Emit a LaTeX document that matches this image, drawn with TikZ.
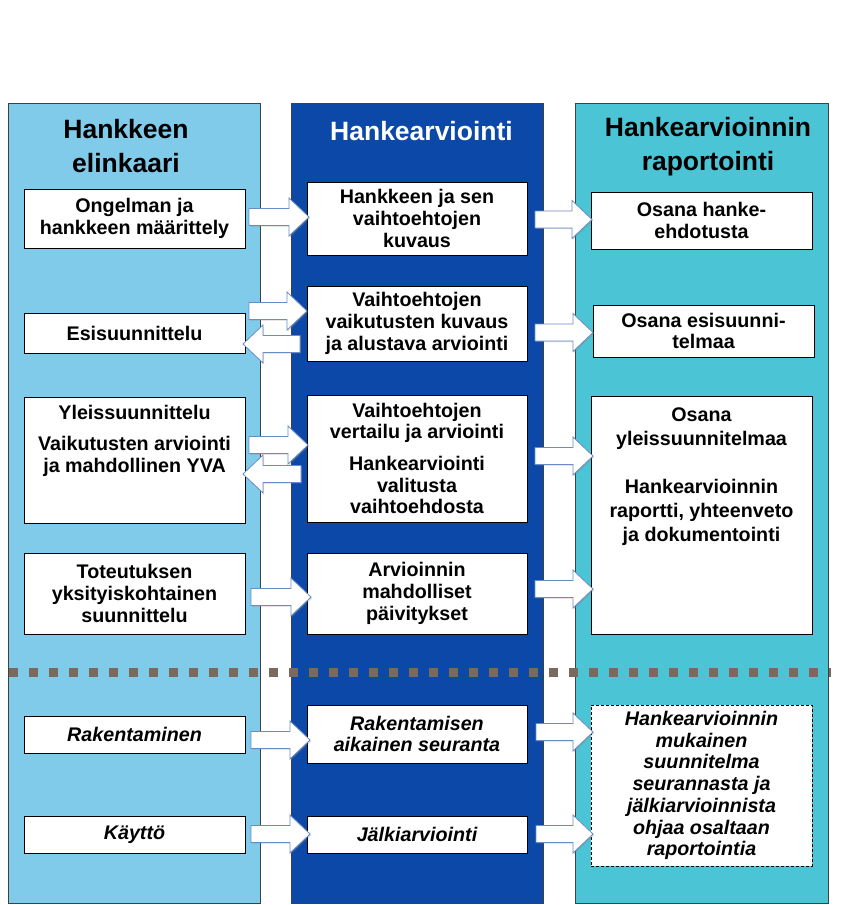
\documentclass[tikz,border=0pt]{standalone}
\usepackage{fontspec}
\setmainfont{Liberation Sans}
\usetikzlibrary{shadows}
\definecolor{colL}{RGB}{127,203,233}
\definecolor{colM}{RGB}{12,72,168}
\definecolor{colR}{RGB}{75,197,214}
\definecolor{dotc}{RGB}{122,106,94}
\definecolor{arrowc}{RGB}{105,140,200}
\newcommand\blockR[3]{\draw[barrow] (#1,#3-8.5) -- (#2-20,#3-8.5) -- (#2-20,#3-19) -- (#2,#3) -- (#2-20,#3+19) -- (#2-20,#3+8.5) -- (#1,#3+8.5) -- cycle;}
\newcommand\blockL[3]{\draw[barrow] (#1,#3-8.5) -- (#2+20,#3-8.5) -- (#2+20,#3-19) -- (#2,#3) -- (#2+20,#3+19) -- (#2+20,#3+8.5) -- (#1,#3+8.5) -- cycle;}
\begin{document}
\begin{tikzpicture}[x=1pt,y=-1pt,
  colbox/.style={draw=black!75,line width=0.8pt},
  box/.style={draw=black,line width=0.7pt,fill=white,inner sep=0pt,align=center,
    font=\bfseries\fontsize{19.7}{21.7}\selectfont},
  ibox/.style={box,font=\bfseries\itshape\fontsize{19.7}{21.7}\selectfont},
  txt/.style={inner sep=0pt,align=center,font=\bfseries\fontsize{19.7}{21.7}\selectfont},
  head/.style={inner sep=0pt,align=center,font=\bfseries\fontsize{26.5}{34}\selectfont},
  barrow/.style={fill=white,draw=arrowc,line width=0.8pt,
    drop shadow={opacity=0.3,shadow xshift=1.2pt,shadow yshift=-1.2pt}}
]
\useasboundingbox (0,0) rectangle (851,905);
\fill[white] (0,0) rectangle (851,905);

% columns
\path[fill=colL,colbox] (8,103) rectangle (260,903);
\path[fill=colM,colbox] (291,103) rectangle (543,903);
\path[fill=colR,colbox] (575,103) rectangle (828,903);

% dotted separator
\coordinate (sepA) at (9,672.5);
\coordinate (sepB) at (831,672.5);
\draw[dotc,line width=9pt,dash pattern=on 9pt off 11pt] (sepA) -- (sepB);

% headers
\node[head] (hL) at (126,146.5) {Hankkeen\\elinkaari};
\node[head,white,anchor=base] (hM) at (421.5,140) {Hankearviointi};
\node[head] (hR) at (708,146.5) {Hankearvioinnin\\raportointi};

% left boxes
\node[box,minimum width=221,minimum height=59] (l1) at (134.5,218.5) {Ongelman ja\\hankkeen määrittely};
\node[box,minimum width=221,minimum height=40] (l2) at (134.5,333) {Esisuunnittelu};
\node[box,minimum width=221,minimum height=126] (l3) at (134.5,460) {};
\node[txt] (l3t) at (134.5,441) {Yleissuunnittelu\\[9pt]Vaikutusten arviointi\\ja mahdollinen YVA};
\node[box,minimum width=221,minimum height=81] (l4) at (134.5,593.5) {Toteutuksen\\yksityiskohtainen\\suunnittelu};
\node[ibox,minimum width=221,minimum height=37] (l5) at (134.5,734.5) {Rakentaminen};
\node[ibox,minimum width=221,minimum height=37] (l6) at (134.5,834.5) {Käyttö};

% middle boxes
\node[box,minimum width=220,minimum height=73] (m1) at (417,218.5) {Hankkeen ja sen\\vaihtoehtojen\\kuvaus};
\node[box,minimum width=220,minimum height=75] (m2) at (417,323.5) {Vaihtoehtojen\\vaikutusten kuvaus\\ja alustava arviointi};
\node[box,minimum width=220,minimum height=127] (m3) at (417,458.5) {Vaihtoehtojen\\vertailu ja arviointi\\[10pt]Hankearviointi\\valitusta\\vaihtoehdosta};
\node[box,minimum width=220,minimum height=81] (m4) at (417,593.5) {Arvioinnin\\mahdolliset\\päivitykset};
\node[ibox,minimum width=220,minimum height=58] (m5) at (417,734) {Rakentamisen\\aikainen seuranta};
\node[ibox,minimum width=220,minimum height=37] (m6) at (417,834.5) {Jälkiarviointi};

% right boxes
\node[box,minimum width=221,minimum height=57] (r1) at (701.5,220.5) {Osana hanke-\\ehdotusta};
\node[box,minimum width=221,minimum height=52] (r2) at (703.5,331) {Osana esisuunni-\\telmaa};
\node[box,minimum width=221,minimum height=238] (r3) at (701.5,515) {};
\node[txt,font=\bfseries\fontsize{19.7}{24}\selectfont] (r3t) at (701.5,477) {Osana\\yleissuunnitelmaa\\[24pt]Hankearvioinnin\\raportti, yhteenveto\\ja dokumentointi};
\node[ibox,dash pattern=on 3pt off 2pt,minimum width=221,minimum height=161] (r4) at (701.5,785.5) {Hankearvioinnin\\mukainen\\suunnitelma\\seurannasta ja\\jälkiarvioinnista\\ohjaa osaltaan\\raportointia};

% block arrows left <-> middle
\blockR{249}{309}{217}
\blockR{249}{307}{311}
\blockL{300}{243}{344}
\blockR{249}{308}{445}
\blockL{301}{243}{474}
\blockR{251}{311}{597}
\blockR{251}{310}{740}
\blockR{251}{310}{834}

% block arrows middle -> right
\blockR{535}{592}{219.5}
\blockR{535}{593}{332.5}
\blockR{535}{593}{456}
\blockR{535}{593}{589}
\blockR{536}{593}{732}
\blockR{536}{593}{834}
\end{tikzpicture}
\end{document}
